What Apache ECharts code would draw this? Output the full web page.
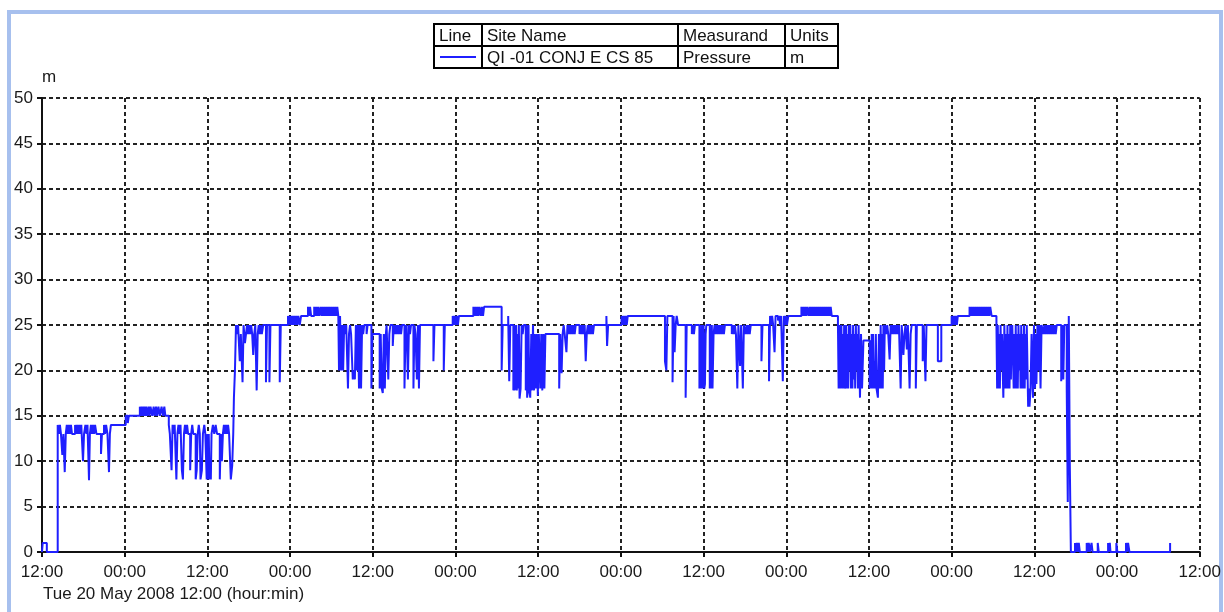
<!DOCTYPE html>
<html>
<head>
<meta charset="utf-8">
<script src="https://cdn.jsdelivr.net/npm/echarts@6/dist/echarts.min.js"></script>
<style>html,body{margin:0;padding:0;background:#fff}#c{width:1224px;height:612px}</style>
</head>
<body>
<div id="c"></div>
<script>
// Time in hours from Tue 20 May 2008 12:00, pressure in m
const period1 = [
[0,0],[0.1,1],[0.7,0],[2.28,14],[2.45,13],[2.6,14],[2.75,13],[2.95,10.7],[3.1,13],[3.3,8.8],[3.45,13],[3.6,14],[3.75,13],[3.9,14],[4.05,13],[4.2,14],[4.35,13],[4.8,14],[4.95,13],[5.1,14],[5.25,13],[5.4,14],[5.55,13],[5.7,14],[5.95,10],[6.1,13],[6.3,14],[6.45,13],[6.6,14],[6.82,7.9],[6.95,13],[7.1,14],[7.25,13],[7.4,14],[7.55,13],[7.7,14],[7.9,13],[8.56,10.8],[8.7,13],[9.0,14],[9.15,13],[9.3,14],[9.5,13],[9.72,8.8],[9.85,13],[10.0,14],
[12.15,15],[12.45,14.2],[12.6,15],[14.2,16],[14.35,15],[14.5,16],[14.65,15],[14.8,16],[14.95,15],[15.1,16],[15.25,15],[15.45,16],[15.6,15],[15.75,16],[16.0,15],[16.2,16],[16.35,15],[16.55,16],[16.7,15],[16.9,16],[17.1,15],[17.35,16],[17.55,15],[17.75,16],[17.9,15],
[18.4,14],[18.55,13],[18.8,9],[18.95,14],[19.1,13],[19.25,14],[19.5,8],[19.65,13],[19.8,14],[19.95,13],[20.1,14],[20.3,9],[20.45,8],[20.6,13],[20.75,14],[20.9,13],[21.05,14],[21.2,13],[21.5,9],[21.65,13],[21.8,14],[21.95,13],[22.3,8],[22.45,9],[22.6,13],[22.75,14],[22.9,13],[23.0,8],[23.2,9],[23.35,13],[23.55,14],[23.7,13],[23.9,8]
];
const period2 = [
[24.0,13],[24.1,8],[24.2,13],[24.3,8],[24.4,9],[24.5,8],[24.6,13],[24.8,14],[25.0,13],[25.2,14],[25.4,13],[25.8,8],[25.95,13],[26.1,10],[26.25,13],[26.4,14],[26.55,13],[26.7,14],[26.85,13],[27.0,14],[27.15,13],[27.4,8],[27.6,9.5],[27.75,13],[27.85,17],[28.0,20],[28.15,25],[28.3,24],[28.45,25],[28.7,21],[28.85,24],[29.1,18.7],[29.25,25],[29.45,23],[29.6,24],[29.75,25],[29.9,24],[30.05,25],[30.2,24],[30.35,25],[30.5,24],[30.65,21.7],[30.8,24],[30.95,25],[31.15,17.8],[31.3,24],[31.45,25],[31.6,24],[31.75,25],[31.9,24],[32.1,25],[32.5,18.7],[32.65,25],[33.0,18.7],[33.15,25],[34.5,18.7],[34.65,25],[35.7,26],[35.85,25],[36.0,26],[36.15,25],[36.3,26],[36.45,25],[36.6,26],[36.75,25],[36.9,26],[37.05,25],[37.2,26],[37.4,25],[37.6,26],
[38.6,27],[38.75,26],[38.9,27],[39.05,26],[39.5,27],[39.65,26],[39.8,27],[39.95,26],[40.1,27],[40.25,26],[40.45,27],[40.6,26],[40.75,27],[40.9,26],[41.05,27],[41.2,26],[41.35,27],[41.5,26],[41.65,27],[41.8,26],[41.95,27],[42.1,26],[42.25,27],[42.4,26],[42.55,27],[42.7,26],[42.85,27],[43.0,26],[43.1,20],[43.25,26],[43.4,20],[43.55,25],[43.7,20],[43.85,25],[44.0,24],[44.15,25],[44.4,18],[44.55,24],[44.7,25],[44.85,24],[45.1,19],[45.25,20],[45.4,19],[45.55,25],[45.7,20],[45.85,25],[46.0,18],[46.15,25],[46.3,18],[46.45,25],[46.6,24],[46.75,25],[47.1,24],[47.25,25],[47.8,18],[47.95,24]
];
const period3 = [
[49.0,18],[49.15,24],[49.3,18],[49.45,17.5],[49.6,24],[49.75,18],[49.9,24],[50.0,25],[50.25,19],[50.4,24],[50.55,25],[50.9,22.7],[51.05,25],[51.2,24],[51.35,25],[51.5,24],[51.65,25],[51.8,24],[51.95,25],[52.1,24],[52.25,25],[52.6,18],[52.75,24],[52.9,25],[53.1,19],[53.25,25],[53.4,24],[53.55,25],[53.9,18],[54.05,25],[54.2,24],[54.4,19],[54.55,25],[54.7,18],[54.85,25],[56.8,21],[56.95,25],[58.3,20],[58.45,25],[59.6,26],[59.75,25],[59.9,26],[60.05,25],[60.2,26],[60.35,25],[60.5,26],
[62.6,27],[62.75,26],[62.9,27],[63.05,26],[63.2,27],[63.35,26],[63.5,27],[63.7,26],[63.85,27],[64.0,26],[64.15,27],[66.7,20],[66.85,25],[67.65,26],[67.8,18.8],[67.95,25],[68.4,17.8],[68.5,25],[68.6,17.8],[68.7,18],[68.8,25],[68.9,17.8],[69.0,24],[69.1,18],[69.2,25],[69.3,16.9],[69.45,18],[69.6,25],[69.75,24],[69.9,25],[70.2,17.8],[70.3,25],[70.4,17],[70.5,18],[70.6,25],[70.7,17.8],[70.85,17],[71.0,24],[71.1,17.8],[71.25,25],[71.4,17.8],[71.5,24],[71.65,18],[71.8,24],[71.95,17.2]
];
const period4 = [
[72.1,24],[72.3,18],[72.45,24],[72.6,17.8],[72.75,24],[72.9,18],[73.05,24],[75.05,18],[75.2,24],[75.4,19.7],[75.55,24],[75.7,25],[75.85,24],[76.1,22],[76.25,25],[76.4,24],[76.55,25],[76.7,24],[76.85,25],[77.0,24],[77.15,25],[77.3,24],[77.45,25],[78.0,24],[78.15,25],[78.3,24],[78.45,25],[78.6,24],[78.75,25],[78.9,21],[79.05,24],[79.2,25],[79.35,24],[79.5,25],[79.65,24],[79.8,25],[79.95,24],[80.1,25],[81.9,26],[82.0,22.7],[82.15,25],[84.1,26],[84.25,25],[84.4,26],[84.55,25],[84.7,26],[84.85,25],[85.0,26],
[90.4,21],[90.6,20],[90.75,26],[91.5,18.7],[91.65,26],[91.8,22],[91.95,25],[92.1,26],[92.3,25],[93.4,17],[93.55,25],[94.3,24],[94.45,25],[94.6,24],[94.75,25],[95.4,18],[95.5,24],[95.6,18],[95.7,25],[95.8,18],[95.9,24],[96.0,25]
];
const period5 = [
[96.1,18],[96.2,18.5],[96.3,24],[96.4,25],[96.9,18],[97.0,24],[97.1,18],[97.2,25],[97.3,18],[97.45,24],[97.6,25],[97.75,24],[97.9,25],[98.05,24],[98.2,25],[98.35,24],[98.5,25],[98.65,24],[98.8,25],[98.95,24],[99.1,25],[100.1,24],[100.25,25],[100.4,24],[100.55,25],[100.7,24],[100.9,18],[101.05,25],[101.3,20.5],[101.45,25],[101.7,18],[101.85,25],[102.1,24],[102.25,25],[102.4,24],[102.55,25],[102.7,24],[102.85,25],[104.4,21],[104.55,25],[105.5,18.8],[105.65,26],[105.8,25],[105.95,26],[106.1,25],[106.3,22],[106.45,26],[106.8,25.5],[106.95,26],[107.1,25],[107.25,26],[107.5,18.8],[107.65,26],[107.8,25],[107.95,26],[108.1,25],[108.3,26],
[110.2,27],[110.35,26],[110.5,27],[110.65,26],[110.8,27],[110.95,26],[111.1,27],[111.3,26],[111.45,27],[111.6,26],[111.75,27],[111.9,26],[112.05,27],[112.2,26],[112.35,27],[112.5,26],[112.65,27],[112.8,26],[112.95,27],[113.1,26],[113.25,27],[113.4,26],[113.55,27],[113.7,26],[113.85,27],[114.0,26],[114.15,27],[114.3,26],[114.45,27],[114.6,26],[115.5,25],[115.6,18],[115.7,25],[115.8,18],[115.9,20],[116.0,25],[116.1,18],[116.2,24],[116.3,18],[116.4,25],[116.5,18],[116.6,19],[116.7,25],[116.8,18],[116.9,24],[117.0,18],[117.1,25],[117.2,20],[117.3,25],[117.4,18],[117.5,24],[117.6,18],[117.7,25],[117.8,19],[117.9,24],[118.0,18],[118.1,25],[118.2,20],[118.3,24],[118.4,18],[118.5,25],[118.7,17],[118.85,24],[119.0,18],[119.2,23.3]
];
const period6 = [
[120.1,18],[120.2,23],[120.3,18],[120.4,24],[120.5,18],[120.6,24],[120.7,18],[120.8,21],[120.9,18],[121.0,24],[121.1,18],[121.3,17],[121.45,24],[121.6,18],[121.7,25],[121.8,18],[121.9,24],[122.0,18],[122.1,25],[122.2,20],[122.3,25],[122.5,24],[122.65,25],[122.8,24],[123.0,21.2],[123.15,25],[123.3,24],[123.45,25],[123.6,24],[123.75,25],[123.9,24],[124.05,25],[124.2,24],[124.35,25],[124.6,18],[124.75,25],[125.0,21.7],[125.15,24],[125.3,25],[125.5,22.3],[125.65,25],[125.9,18],[126.05,24],[126.2,25],[126.8,18],[126.95,25],[127.8,21],[127.95,25],[128.2,18.8],[128.35,25],[130.0,21],[130.5,25],[132.0,26],[132.15,25],[132.3,26],[132.45,25],[132.6,26],[132.75,25],[132.9,26],
[134.6,27],[134.75,26],[134.9,27],[135.05,26],[135.2,27],[135.35,26],[135.5,27],[135.65,26],[135.8,27],[135.95,26],[136.1,27],[136.25,26],[136.4,27],[136.55,26],[136.7,27],[136.85,26],[137.0,27],[137.15,26],[137.3,27],[137.45,26],[137.6,27],[137.8,26],[138.5,25],[138.6,18],[138.7,25],[138.8,18],[138.9,24],[139.0,18],[139.1,25],[139.2,20],[139.3,24],[139.5,17],[139.65,25],[139.8,18],[139.9,24],[140.0,18],[140.1,25],[140.2,18],[140.3,24],[140.4,18],[140.5,25],[140.6,19],[140.7,24],[140.8,25],[141.0,18],[141.1,24],[141.2,18],[141.3,25],[141.4,18],[141.5,24],[141.6,18],[141.7,25],[141.8,20],[141.9,24],[142.0,18],[142.1,25],[142.2,18],[142.3,24],[142.4,18],[142.5,25],[142.6,18],[142.7,24],[142.8,19],[142.9,25],[143.1,16],[143.2,18],[143.3,16],[143.45,18],[143.6,24],[143.8,17],[143.95,25]
];
const period7 = [
[144.1,18],[144.2,24],[144.3,18.5],[144.45,25],[144.6,20],[144.75,25],[144.9,18],[145.05,25],[145.3,24],[145.45,25],[145.6,24],[145.75,25],[145.9,24],[146.05,25],[146.2,24],[146.35,25],[146.5,24],[146.65,25],[146.8,24],[146.95,25],[147.1,24],[147.25,25],[147.9,18.8],[148.05,25],[148.2,19],[148.35,25],[148.7,18],[148.85,5.5],[149.0,26],[149.15,9.4],[149.3,0],[149.9,1],[150.05,0],[150.15,1],[150.3,0],[150.45,1],[150.6,0],[151.6,1],[151.75,0],[151.9,1],[152.05,0],[152.3,1],[152.45,0],[153.2,1],[153.35,0],[154.7,1],[154.85,0],[154.95,1],[155.05,0],[155.9,1],[156.05,0],[157.3,1],[157.45,0],[157.6,1],[157.8,0],[163.7,1]
];
const xTickLabels = ['12:00','00:00','12:00','00:00','12:00','00:00','12:00','00:00','12:00','00:00','12:00','00:00','12:00','00:00','12:00'];
const legendHeaders = ['Line','Site Name','Measurand','Units'];
const legendRow = ['','QI -01 CONJ E CS 85','Pressure','m'];
const xAxisTitle = 'Tue 20 May 2008 12:00 (hour:min)';
const yUnit = 'm';

const pressure = [].concat(period1, period2, period3, period4, period5, period6, period7);

const FONT = '"Liberation Sans", Arial, sans-serif';
const chart = echarts.init(document.getElementById('c'), null, {renderer: 'canvas'});

const colX = [434, 482, 678, 785, 838];
const tableTop = 24, rowMid = 46, tableBottom = 68;
const graphics = [
  {type:'rect', shape:{x:9, y:12, width:1212, height:700}, style:{fill:'none', stroke:'#a7c0ee', lineWidth:4}, z:0},
  {type:'rect', shape:{x:colX[0], y:tableTop, width:colX[4]-colX[0], height:tableBottom-tableTop}, style:{fill:'#fff', stroke:'#000', lineWidth:2}, z:10},
  {type:'line', shape:{x1:colX[0], y1:rowMid, x2:colX[4], y2:rowMid}, style:{stroke:'#000', lineWidth:2}, z:11},
  {type:'line', shape:{x1:440, y1:57, x2:476, y2:57}, style:{stroke:'#1f1fff', lineWidth:2}, z:11},
  {type:'text', left:43, top:586, style:{text:xAxisTitle, font:'17px ' + FONT, fill:'#1a1a1a'}}
];
for (let i = 1; i < 4; i++) {
  graphics.push({type:'line', shape:{x1:colX[i], y1:tableTop, x2:colX[i], y2:tableBottom}, style:{stroke:'#000', lineWidth:2}, z:11});
}
for (let i = 0; i < 4; i++) {
  graphics.push({type:'text', x:colX[i]+5, y:(tableTop+rowMid)/2 + 1, style:{text:legendHeaders[i], font:'17px ' + FONT, fill:'#111', textVerticalAlign:'middle', verticalAlign:'middle'}, z:12});
  if (legendRow[i]) graphics.push({type:'text', x:colX[i]+5, y:(rowMid+tableBottom)/2 + 1, style:{text:legendRow[i], font:'17px ' + FONT, fill:'#111', textVerticalAlign:'middle', verticalAlign:'middle'}, z:12});
}

chart.setOption({
  animation: false,
  backgroundColor: '#fff',
  grid: {left: 42, right: 24, top: 98, bottom: 60, containLabel: false},
  xAxis: {
    type: 'value', min: 0, max: 168, interval: 12,
    axisLine: {show: true, onZero: false, lineStyle: {color: '#111', width: 2}},
    axisTick: {show: true, length: 5, lineStyle: {color: '#111', width: 2}},
    axisLabel: {color: '#1a1a1a', fontSize: 17, fontFamily: FONT, margin: 12,
      formatter: v => xTickLabels[Math.round(v / 12)]},
    splitLine: {show: true, lineStyle: {color: '#222', width: 2, type: [4, 3]}}
  },
  yAxis: {
    type: 'value', min: 0, max: 50, interval: 5,
    name: yUnit, nameLocation: 'end', nameGap: 12,
    nameTextStyle: {color: '#1a1a1a', fontSize: 17, fontFamily: FONT, align: 'left'},
    axisLine: {show: true, lineStyle: {color: '#111', width: 2}},
    axisTick: {show: true, length: 5, lineStyle: {color: '#111', width: 2}},
    axisLabel: {color: '#1a1a1a', fontSize: 17, fontFamily: FONT, margin: 9},
    splitLine: {show: true, lineStyle: {color: '#222', width: 2, type: [4, 3]}}
  },
  series: [{
    type: 'line', step: 'end', data: pressure, showSymbol: false, symbol: 'none',
    lineStyle: {color: '#1f1fff', width: 2}, z: 5
  }],
  graphic: graphics
});
</script>
</body>
</html>
